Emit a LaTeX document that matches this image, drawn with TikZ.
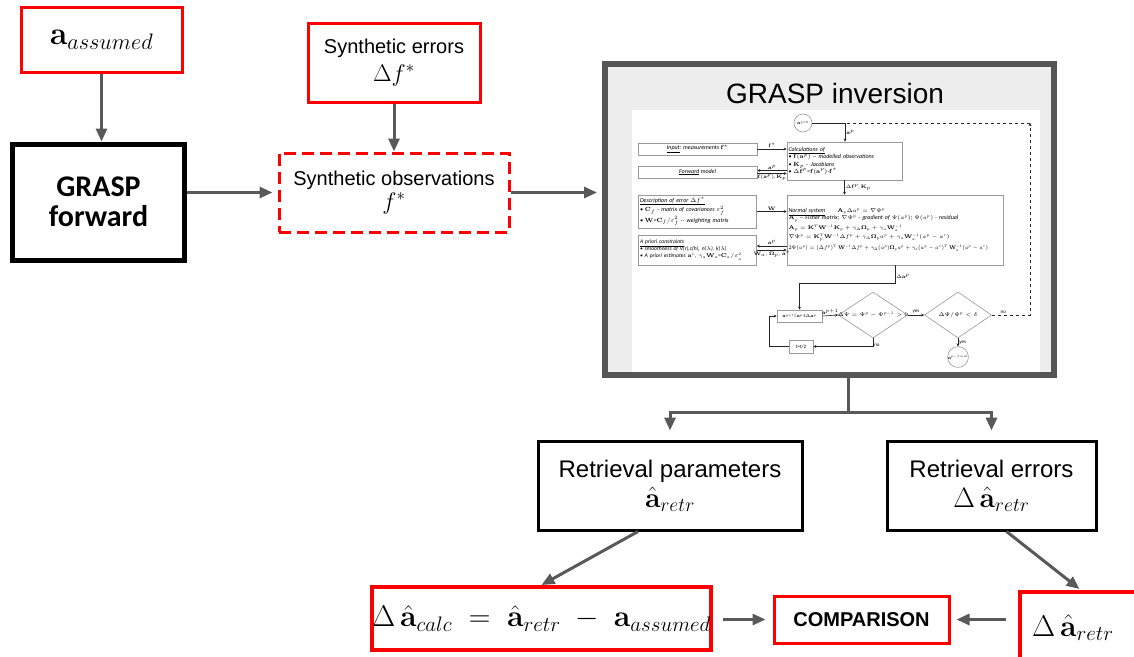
\RequirePackage{fix-cm}
\documentclass[tikz,border=0pt]{standalone}
\usepackage[no-math]{fontspec}
\setmainfont{Liberation Sans}
\newfontfamily\calfont{Carlito}
\usetikzlibrary{arrows.meta,shapes.geometric}
\definecolor{arrgray}{HTML}{595959}
\definecolor{invgray}{HTML}{555555}
\definecolor{panelgray}{HTML}{EDEDED}
\definecolor{flowgray}{HTML}{9A9A9A}
\definecolor{boxred}{HTML}{FF0000}
\newcommand{\flowfont}{\calfont\itshape\fontsize{6}{7.4}\selectfont}
\newcommand{\flowsmall}{\calfont\fontsize{5}{6}\selectfont}
\newcommand{\flowmath}{\fontsize{5.4}{7}\selectfont}
\begin{document}
\begin{tikzpicture}[x=1pt,y=-1pt,
  redbox/.style={draw=boxred,line width=3pt,fill=white,align=center,inner sep=0pt},
  blackbox/.style={draw=black,line width=3pt,fill=white,align=center,inner sep=0pt},
  arr/.style={draw=arrgray,line width=3pt,-{Triangle[length=13pt,width=11pt]}},
  flowbox/.style={draw=flowgray,line width=0.6pt,fill=white,font=\flowfont,inner sep=1.5pt},
  flowcirc/.style={circle,draw=flowgray,line width=0.6pt,fill=white,minimum size=18pt,inner sep=0pt,font=\fontsize{4.5}{5}\selectfont},
  flowdia/.style={diamond,aspect=1.6,draw=flowgray,line width=0.6pt,fill=white,inner sep=-2pt,font=\fontsize{5.5}{6}\selectfont},
  flowarr/.style={draw=black!85,line width=0.6pt,-{Stealth[length=3pt,width=3pt]}},
  flowline/.style={draw=black!85,line width=0.6pt},
  flowlbl/.style={font=\flowsmall,inner sep=1pt}]
\useasboundingbox (0,0) rectangle (1134,656);
\fill[white] (0,0) rectangle (1134,656);

\node[redbox,minimum width=161pt,minimum height=65pt,font=\fontsize{32}{36}\selectfont] (aass) at (101.5,39.5) {$\mathbf{a}_{assumed}$};
\node[blackbox,line width=5pt,minimum width=172pt,minimum height=116pt,font=\calfont\bfseries\fontsize{30}{30}\selectfont] (gfwd) at (98.5,202) {GRASP\\forward};
\node[redbox,minimum width=172pt,minimum height=79pt,font=\fontsize{20}{26}\selectfont] (serr) at (394,62.5) {Synthetic errors\\[2pt]{\fontsize{24}{24}\selectfont$\Delta f^*$}};
\node[redbox,dash pattern=on 12pt off 6pt,minimum width=230pt,minimum height=79pt,font=\fontsize{20}{24}\selectfont] (sobs) at (394,192.5) {Synthetic observations\\{\fontsize{24}{24}\selectfont$f^*$}};

\node[draw=invgray,line width=6pt,fill=panelgray,minimum width=449pt,minimum height=311pt] (inv) at (829.5,219.5) {};
\fill[white] (632,110) rectangle (1040,372);
\node[font=\fontsize{28}{28}\selectfont] (invtitle) at (835,93) {GRASP inversion};

\node[flowcirc] (p0) at (803,123) {$\mathbf a^{p=0}$};
\coordinate (j0) at (845,123);
\coordinate (loop) at (1030,123);
\node[flowbox,minimum width=119pt,minimum height=12pt] (inp) at (697.5,149) {\underline{Input}: measurements $\mathbf f^*$};
\node[flowbox,minimum width=119pt,minimum height=12pt] (fwdm) at (697.5,172) {\underline{Forward} model};
\node[flowbox,text width=112pt,minimum height=38pt,align=left] (calc) at (844.5,161) {\underline{Calculations of}\\
  \textbullet\ $\mathbf f(\mathbf a^p)$ -- modelled observations\\
  \textbullet\ $\mathbf K_p$ -\enspace Jacobians\\
  \textbullet\ $\Delta\mathbf f^p$=$\mathbf f(\mathbf a^p)$-$\mathbf f^*$};
\node[flowbox,text width=115pt,minimum height=33pt,align=left] (desc) at (697.5,211.5) {\underline{Description of error $\Delta f^*$}\\
  \textbullet\ $\mathbf C_f$ - matrix of covariances $\varepsilon_f^2$\\
  \textbullet\ $\mathbf W$=$\mathbf C_f/\varepsilon_f^2$ -- weighting matrix};
\node[flowbox,text width=115pt,minimum height=30pt,align=left,font=\calfont\itshape\fontsize{5.6}{7}\selectfont] (apr) at (697.5,250) {\underline{A priori constraints}\\
  \textbullet\ smoothness of V(r),c(h), n($\lambda$), k($\lambda$)\\
  \textbullet\ A priori estimates $\mathbf a^*$, $\gamma_a\mathbf W_a$=$\mathbf C_a/\varepsilon_a^2$};
\node[flowbox,text width=213pt,minimum height=70pt,align=left] (nrm) at (895,230) {\underline{Normal system}\qquad {\flowmath$\mathbf A_p\Delta a^p=\nabla\Psi^p$}\\
  {\flowmath$\mathbf A_p$} -- Fisher matrix; {\flowmath$\nabla\Psi^p$} - gradient of {\flowmath$\Psi(a^p)$}; {\flowmath$\Psi(a^p)$} - residual\\[2pt]
  {\flowmath$\mathbf A_p=\mathbf K^T\mathbf W^{-1}\mathbf K_p+\gamma_\Delta\mathbf\Omega_p+\gamma_a\mathbf W_a^{-1}$}\\[2pt]
  {\flowmath$\nabla\Psi^p=\mathbf K_p^T\mathbf W^{-1}\Delta f^p+\gamma_\Delta\mathbf\Omega_p a^p+\gamma_a\mathbf W_a^{-1}(a^p-a^*)$}\\[2pt]
  \scalebox{0.86}[1]{\flowmath$2\Psi(a^p)=(\Delta f^p)^T\,\mathbf W^{-1}\Delta f^p+\gamma_\Delta(a^p)\mathbf\Omega_p a^p+\gamma_a(a^p-a^*)^T\,\mathbf W_a^{-1}(a^p-a^*)$}};
\node[flowbox,minimum width=45pt,minimum height=12pt,inner sep=0pt,font=\fontsize{4.5}{5}\selectfont] (upd) at (799.5,316) {$\mathbf a^{p+1}$=$\mathbf a^p$-t$\Delta\mathbf a^p$};
\node[flowdia,minimum width=69pt,minimum height=46pt] (d1) at (873,315) {$\Delta\Psi=\Psi^p-\Psi^{p-1}>0$};
\node[flowdia,minimum width=67pt,minimum height=46pt] (d2) at (958,315) {$\Delta\Psi/\Psi^p<\delta$};
\node[flowcirc] (cf) at (958,357) {$\mathbf a^{p-final}$};
\node[flowbox,minimum width=24pt,minimum height=13pt,inner sep=0pt,font=\calfont\fontsize{5}{6}\selectfont] (th) at (801,346.5) {t=t/2};

\draw[flowline] (p0) -- (j0);
\draw[flowarr] (j0) -- (j0 |- calc.north) node[flowlbl,right,midway] {$\mathbf a^p$};
\draw[flowarr] (inp.east) -- (inp.east -| calc.west) node[flowlbl,above,midway] {$\mathbf f^*$};
\draw[flowarr] ([yshift=1.5pt]fwdm.east -| calc.west) -- ([yshift=1.5pt]fwdm.east) node[flowlbl,above,midway] {$\mathbf a^p$};
\draw[flowarr] ([yshift=-1.5pt]fwdm.east) -- ([yshift=-1.5pt]fwdm.east -| calc.west) node[flowlbl,below,midway] {$\mathbf f(\mathbf a^p)$, $\mathbf K_p$};
\draw[flowarr] (calc.south) -- (calc.south |- nrm.north) node[flowlbl,right,midway] {$\Delta\mathbf f^p$, $\mathbf K_p$};
\draw[flowarr] (desc.east) -- (desc.east -| nrm.west) node[flowlbl,above,midway] {$\mathbf W$};
\draw[flowarr] ([yshift=4pt]apr.east -| nrm.west) -- ([yshift=4pt]apr.east) node[flowlbl,above,midway] {$\mathbf a^p$};
\draw[flowarr] (apr.east) -- (apr.east -| nrm.west) node[flowlbl,below,midway] {$\mathbf W_a,\mathbf\Omega_p,\mathbf a^*$};
\draw[flowarr] (nrm.south) -- ++(0,18) node[flowlbl,right,pos=0.6] {$\Delta\mathbf a^p$} -| (upd.north);
\draw[flowarr] (upd.east) -- (d1.west) node[flowlbl,above,midway] {$\mathbf a^{p+1}$};
\draw[flowarr] (d1.east) -- (d2.west) node[flowlbl,above,midway] {yes};
\draw[flowarr] (d2.south) -- (cf.north) node[flowlbl,right,midway] {yes};
\draw[flowarr] (d1.south) |- (th.east) node[flowlbl,right,pos=0.4] {no};
\draw[flowarr] (th.west) -- ++(-19,0) |- (upd.west);
\draw[flowarr,dashed] (d2.east) -| (loop) node[flowlbl,above,pos=0.15] {no};
\draw[flowline,dashed] (loop) -- (j0);

\node[blackbox,minimum width=264pt,minimum height=89pt,font=\fontsize{24}{30}\selectfont] (params) at (670,485.5) {Retrieval parameters\\{\fontsize{28}{28}\selectfont$\hat{\mathbf a}_{retr}$}};
\node[blackbox,minimum width=209pt,minimum height=89pt,font=\fontsize{24}{30}\selectfont] (errs) at (991.5,485.5) {Retrieval errors\\{\fontsize{28}{28}\selectfont$\Delta\,\hat{\mathbf a}_{retr}$}};
\node[redbox,line width=4pt,minimum width=329pt,minimum height=63pt,font=\fontsize{30}{30}\selectfont] (dcalc) at (541.5,618.5) {$\Delta\,\hat{\mathbf a}_{calc}\;=\;\hat{\mathbf a}_{retr}\;-\;\mathbf a_{assumed}$};
\node[redbox,minimum width=175pt,minimum height=47pt,font=\bfseries\fontsize{20}{20}\selectfont] (comp) at (861.5,619.5) {COMPARISON};
\node[redbox,line width=4pt,anchor=west,text width=111pt,inner xsep=12pt,align=left,minimum height=72pt,font=\fontsize{30}{30}\selectfont] (dretr) at (1018,628) {$\Delta\,\hat{\mathbf a}_{retr}$};

\coordinate (split) at (848,412);
\draw[arr] (aass.south) -- (aass.south |- gfwd.north);
\draw[arr] (serr.south) -- (serr.south |- sobs.north);
\draw[arr,shorten >=5pt] (gfwd.east |- sobs.west) -- (sobs.west);
\draw[arr,shorten >=5pt] (sobs.east) -- (sobs.east -| inv.west);
\draw[draw=arrgray,line width=3pt] ([xshift=18.5pt]inv.south) -- (split);
\draw[arr] (split) -| ([yshift=9pt]params.north);
\draw[arr] (split) -| ([yshift=9pt]errs.north);
\draw[arr] ([xshift=-32pt]params.south) -- (dcalc.north);
\draw[arr] ([xshift=15pt]errs.south) -- ([xshift=-8pt,yshift=1pt]dretr.north);
\draw[arr,shorten <=10pt,shorten >=7pt] (dcalc.east |- comp.west) -- (comp.west);
\draw[arr,shorten <=12pt,shorten >=6pt] (comp.east -| dretr.west) -- (comp.east);
\end{tikzpicture}
\end{document}
